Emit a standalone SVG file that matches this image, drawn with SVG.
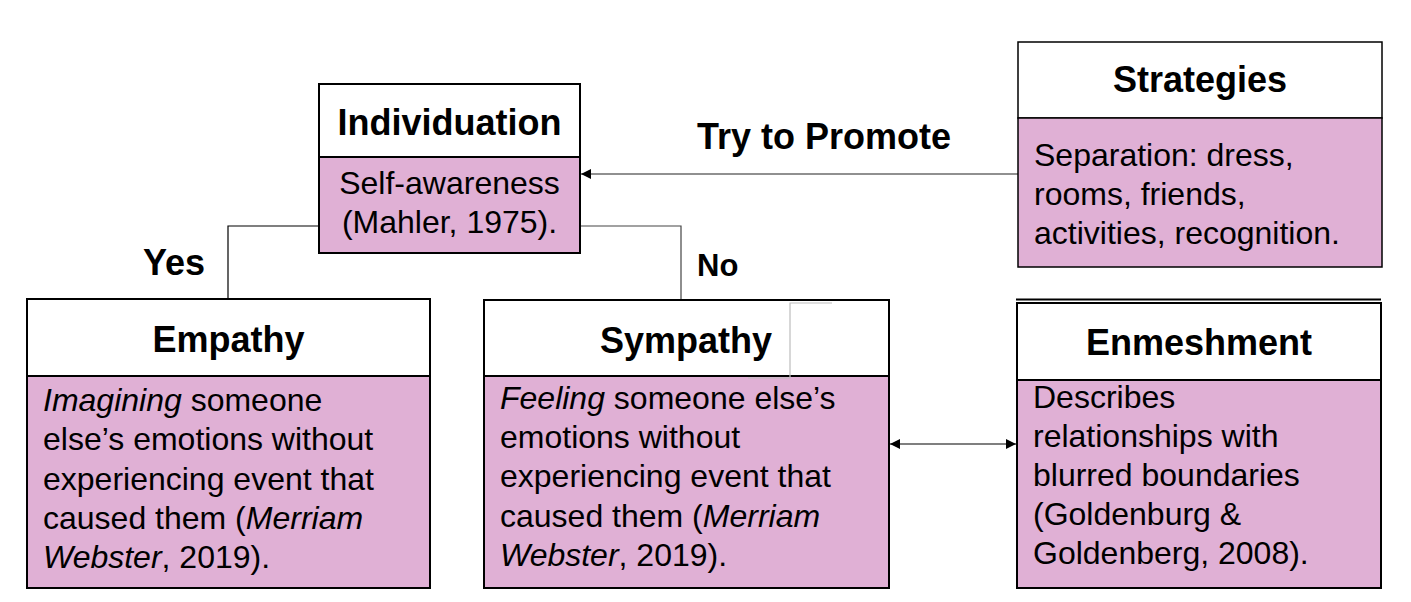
<svg xmlns="http://www.w3.org/2000/svg" width="1411" height="602" viewBox="0 0 1411 602">
<style>
.hd{fill:#ffffff;stroke:#000;stroke-width:2}
.bd{fill:#e0b0d5;stroke:#000;stroke-width:2}
.t{font-family:"Liberation Sans",Arial,sans-serif;font-weight:bold;font-size:36px;fill:#000}
.b{font-family:"Liberation Sans",Arial,sans-serif;font-size:32px;fill:#000}
.i{font-style:italic}
.ln{fill:none;stroke:#000;stroke-width:1.2}
.gr{fill:none;stroke:#bdbdbd;stroke-width:1.2}
</style>
<defs>
<marker id="ah" viewBox="0 0 10 10" refX="10" refY="5" markerWidth="10" markerHeight="10" markerUnits="userSpaceOnUse" orient="auto-start-reverse">
<path d="M0,0 L10,5 L0,10 z" fill="#000"/>
</marker>
</defs>
<rect width="1411" height="602" fill="#fff"/>
<g id="connectors">
<polyline class="ln" points="319,226 228,226 228,299"/>
<polyline class="ln" points="580,226 681,226 681,300" style="stroke:#444"/>
<line class="ln" x1="1018" y1="174" x2="581" y2="174" marker-end="url(#ah)" style="stroke:#222"/>
<line class="ln" x1="890" y1="444" x2="1016" y2="444" marker-start="url(#ah)" marker-end="url(#ah)"/>
</g>
<g id="labels">
<text class="t" x="697" y="149">Try to Promote</text>
<text class="t" x="143" y="275">Yes</text>
<text class="t" x="697" y="276" style="font-size:31px">No</text>
</g>
<g id="individuation">
<rect class="hd" x="319" y="84" width="261" height="73"/>
<rect class="bd" x="319" y="157" width="261" height="96"/>
<text class="t" x="449.5" y="135" text-anchor="middle">Individuation</text>
<text class="b" x="449.5" y="194" text-anchor="middle">Self-awareness</text>
<text class="b" x="449.5" y="233" text-anchor="middle">(Mahler, 1975).</text>
</g>
<g id="strategies">
<rect class="hd" x="1018" y="42" width="364" height="76" style="stroke-width:1.5"/>
<rect class="bd" x="1018" y="118" width="364" height="149" style="stroke-width:1.5"/>
<text class="t" x="1200" y="92" text-anchor="middle">Strategies</text>
<text class="b" x="1034" y="166">Separation: dress,</text>
<text class="b" x="1034" y="205">rooms, friends,</text>
<text class="b" x="1034" y="244">activities, recognition.</text>
</g>
<g id="empathy">
<rect class="hd" x="27" y="299" width="403" height="77"/>
<rect class="bd" x="27" y="376" width="403" height="212"/>
<text class="t" x="228.5" y="352" text-anchor="middle">Empathy</text>
<text class="b" x="43" y="411"><tspan class="i">Imagining</tspan> someone</text>
<text class="b" x="43" y="450">else’s emotions without</text>
<text class="b" x="43" y="490">experiencing event that</text>
<text class="b" x="43" y="529">caused them (<tspan class="i">Merriam</tspan></text>
<text class="b" x="43" y="568"><tspan class="i">Webster</tspan>, 2019).</text>
</g>
<g id="sympathy">
<rect class="hd" x="484" y="300" width="405" height="76"/>
<rect class="bd" x="484" y="376" width="405" height="212"/>
<polyline class="gr" points="832,303 790,303 790,378 748,378"/>
<text class="t" x="686" y="353" text-anchor="middle">Sympathy</text>
<text class="b" x="500" y="409"><tspan class="i">Feeling</tspan> someone else’s</text>
<text class="b" x="500" y="448">emotions without</text>
<text class="b" x="500" y="487">experiencing event that</text>
<text class="b" x="500" y="527">caused them (<tspan class="i">Merriam</tspan></text>
<text class="b" x="500" y="566"><tspan class="i">Webster</tspan>, 2019).</text>
</g>
<g id="enmeshment">
<line x1="1016" y1="299.5" x2="1381" y2="299.5" stroke="#000" stroke-width="1.8"/>
<rect class="hd" x="1017" y="303" width="364" height="77"/>
<rect class="bd" x="1017" y="380" width="364" height="208"/>
<text class="t" x="1199" y="355" text-anchor="middle">Enmeshment</text>
<text class="b" x="1033" y="408">Describes</text>
<text class="b" x="1033" y="447">relationships with</text>
<text class="b" x="1033" y="486">blurred boundaries</text>
<text class="b" x="1033" y="525">(Goldenburg &amp;</text>
<text class="b" x="1033" y="564">Goldenberg, 2008).</text>
</g>
</svg>
